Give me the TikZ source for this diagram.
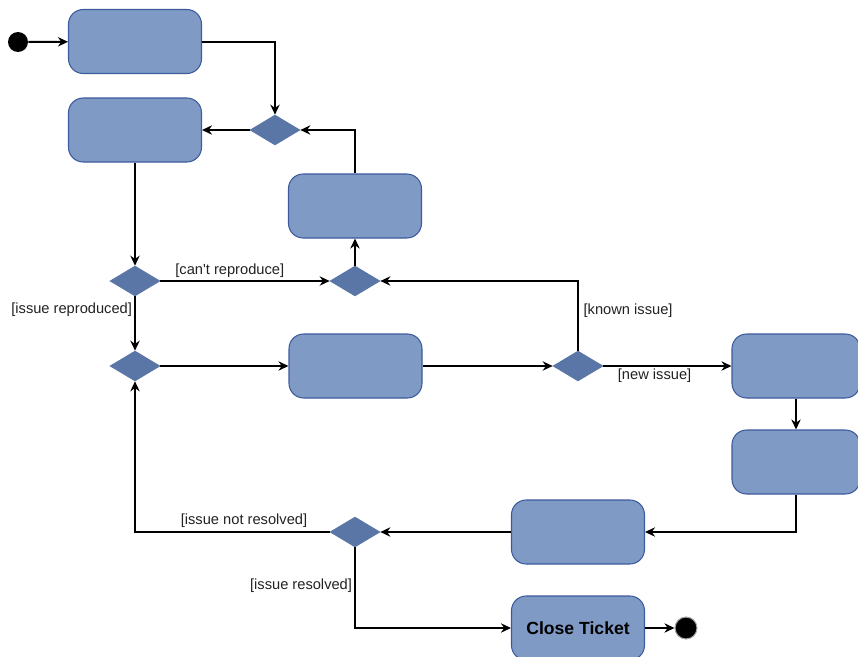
\documentclass[tikz,border=0pt]{standalone}
\usepackage{fontspec}
\setmainfont{Liberation Sans}[Ligatures=TeXOff]
\usetikzlibrary{shapes.geometric,arrows.meta}
\definecolor{boxfill}{HTML}{7F9BC5}
\definecolor{boxline}{HTML}{3D5A9C}
\definecolor{diafill}{HTML}{5A76A6}
\definecolor{txt}{HTML}{222222}
\begin{document}
\begin{tikzpicture}[x=0.75pt,y=-0.75pt,
  actbox/.style={draw=boxline,fill=boxfill,line width=0.8pt,rounded corners=11pt,
    minimum width=99.75pt,minimum height=48pt,inner sep=0pt,font=\fontsize{13.2}{15}\selectfont\bfseries},
  decis/.style={diamond,draw=diafill,fill=diafill,line width=0.5pt,minimum width=37.5pt,minimum height=22.5pt,inner sep=0pt,aspect=1.67},
  dot/.style={circle,fill=black,inner sep=0pt},
  conn/.style={line width=1.5pt,-{Stealth[length=7.5pt,width=7pt]}},
  lbl/.style={font=\fontsize{11}{13}\selectfont,text=txt,inner sep=1.5pt}]
\useasboundingbox (0,0) rectangle (858,657);
\node[dot,minimum size=15pt] (start) at (18,42) {};
\node[actbox] (b1) at (135,41.5) {};
\node[actbox] (b2) at (135,130) {};
\node[decis] (d1) at (275,130) {};
\node[actbox] (b3) at (355,206) {};
\node[decis] (d2) at (355,281) {};
\node[decis] (d3) at (135,281) {};
\node[decis] (d4) at (135,366) {};
\node[actbox] (b4) at (355.5,366) {};
\node[decis] (d5) at (578,366) {};
\node[actbox,minimum width=96pt] (b5) at (796,366) {};
\node[actbox,minimum width=96pt] (b6) at (796,462) {};
\node[actbox] (b7) at (578,532) {};
\node[decis] (d6) at (355,532) {};
\node[actbox] (b8) at (578,628) {Close Ticket};
\node[dot,draw=black!35,line width=0.8pt,minimum size=16.5pt] (end) at (686,628) {};

\draw[conn] (start) -- (b1);
\draw[conn] (b1) -| (d1);
\draw[conn] (d1) -- (b2);
\draw[conn] (b3) |- (d1);
\draw[conn] (b2) -- (d3);
\draw[conn] (d3) -- node[lbl,above,pos=0.41] {[can't reproduce]} (d2);
\draw[conn] (d3) -- node[lbl,left,pos=0.25] {[issue reproduced]} (d4);
\draw[conn] (d2) -- (b3);
\draw[conn] (d5) |- node[lbl,right,pos=0.29,xshift=2pt] {[known issue]} (d2);
\draw[conn] (d4) -- (b4);
\draw[conn] (b4) -- (d5);
\draw[conn] (d5) -- node[lbl,below,pos=0.4] {[new issue]} (b5);
\draw[conn] (b5) -- (b6);
\draw[conn] (b6) |- (b7);
\draw[conn] (b7) -- (d6);
\draw[conn] (d6) -| node[lbl,above,pos=0.22,yshift=1pt] {[issue not resolved]} (d4);
\draw[conn] (d6) |- node[lbl,left,pos=0.235] {[issue resolved]} (b8);
\draw[conn] (b8) -- (end);
\end{tikzpicture}
\end{document}
